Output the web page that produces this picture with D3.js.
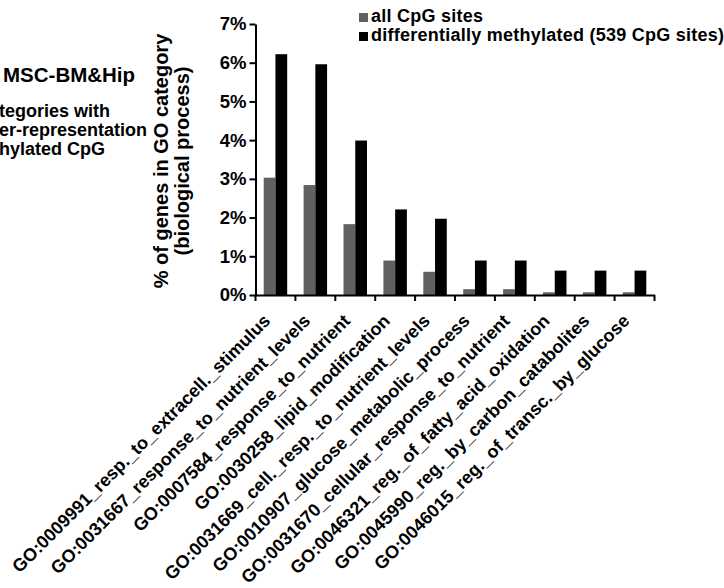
<!DOCTYPE html>
<html>
<head>
<meta charset="utf-8">
<script src="https://cdn.jsdelivr.net/npm/d3@7"></script>
<style>
  html, body { margin: 0; padding: 0; background: #fff; }
  svg { display: block; }
  text { font-family: "Liberation Sans", Arial, sans-serif; font-weight: bold; fill: #000; }
</style>
</head>
<body>
<svg id="chart" width="724" height="588"></svg>
<script>
// GO categories (biological process)
const categories = [
  "GO:0009991_resp._to_extracell._stimulus",
  "GO:0031667_response_to_nutrient_levels",
  "GO:0007584_response_to_nutrient",
  "GO:0030258_lipid_modification",
  "GO:0031669_cell._resp._to_nutrient_levels",
  "GO:0010907_glucose_metabolic_process",
  "GO:0031670_cellular_response_to_nutrient",
  "GO:0046321_reg._of_fatty_acid_oxidation",
  "GO:0045990_reg._by_carbon_catabolites",
  "GO:0046015_reg._of_transc._by_glucose"
];
// % of genes in each category
const allSites = [3.03, 2.84, 1.83, 0.89, 0.60, 0.15, 0.15, 0.07, 0.07, 0.07];
const diffMethylated = [6.22, 5.96, 3.99, 2.21, 1.97, 0.89, 0.89, 0.63, 0.63, 0.63];
const seriesNames = ["all CpG sites", "differentially methylated (539 CpG sites)"];
const seriesColors = ["#616161", "#000000"];
const yTicks = [0, 1, 2, 3, 4, 5, 6, 7];
const sideTitle = "MSC-BM&Hip";
const sideLines = ["tegories with", "er-representation", "hylated CpG"];
const yTitle = ["% of genes in GO category", "(biological process)"];

const svg = d3.select("#chart");

const x0 = d3.scaleBand().domain(categories).range([255.5, 654.5]).padding(0);
const x1 = d3.scaleBand().domain(seriesNames).range([0, x0.bandwidth()])
  .paddingInner(0).paddingOuter(0.7);
const y = d3.scaleLinear().domain([0, 7]).range([295, 24]);

const rows = categories.map((c, i) => ({ cat: c, values: [allSites[i], diffMethylated[i]] }));

// bars
const groups = svg.append("g").selectAll("g").data(rows).join("g")
  .attr("transform", d => `translate(${x0(d.cat)},0)`);
groups.selectAll("rect")
  .data(d => d.values.map((v, k) => ({ name: seriesNames[k], v, k })))
  .join("rect")
  .attr("x", d => x1(d.name))
  .attr("width", x1.bandwidth())
  .attr("y", d => y(d.v))
  .attr("height", d => y(0) - y(d.v))
  .attr("fill", d => seriesColors[d.k]);

// y axis
const yAxis = svg.append("g").attr("transform", `translate(${x0.range()[0]},0)`)
  .call(d3.axisLeft(y).tickValues(yTicks).tickFormat(d => d + "%").tickSize(6).tickSizeOuter(0).tickPadding(3));
yAxis.select(".domain").attr("stroke", "#000").attr("stroke-width", 2);
yAxis.selectAll(".tick line").attr("stroke", "#000").attr("stroke-width", 2);
yAxis.selectAll(".tick text").style("font-size", "18.5px").style("font-family", "Liberation Sans, Arial, sans-serif")
  .style("font-weight", "bold").attr("fill", "#000");

// x axis: baseline with ticks on category boundaries
const xAxis = svg.append("g").attr("transform", `translate(0,${y(0)})`)
  .call(d3.axisBottom(x0).tickSize(0).tickSizeOuter(0).tickFormat(""));
xAxis.select(".domain").attr("stroke", "#000").attr("stroke-width", 2);
const bounds = [x0.range()[0]].concat(categories.map(c => x0(c) + x0.bandwidth()));
xAxis.selectAll("line.bound").data(bounds).join("line").attr("class", "bound")
  .attr("x1", d => d).attr("x2", d => d).attr("y1", 0).attr("y2", 6)
  .attr("stroke", "#000").attr("stroke-width", 2);

// rotated category labels
svg.append("g").selectAll("text").data(categories).join("text")
  .attr("transform", d => `translate(${x0(d) + x0.bandwidth() / 2 - 4},${y(0) + 27}) rotate(-45)`)
  .attr("text-anchor", "end")
  .style("font-size", "18px")
  .text(d => d);

// y axis title
svg.append("g").selectAll("text").data(yTitle).join("text")
  .attr("transform", (d, i) => `translate(${168 + i * 21},161) rotate(-90)`)
  .attr("text-anchor", "middle")
  .style("font-size", "20px")
  .text(d => d);

// legend
const legend = svg.append("g").selectAll("g").data(seriesNames).join("g")
  .attr("transform", (d, i) => `translate(359,${13 + i * 19})`);
legend.append("rect").attr("width", 9).attr("height", 9).attr("fill", (d, i) => seriesColors[i]);
legend.append("text").attr("x", 12).attr("y", 9).style("font-size", "18px")
  .style("letter-spacing", "0.25px").text(d => d);

// side annotation
svg.append("text").attr("x", 3).attr("y", 82).style("font-size", "20.5px").text(sideTitle);
svg.append("g").selectAll("text").data(sideLines).join("text")
  .attr("x", -1).attr("y", (d, i) => 117 + i * 19)
  .style("font-size", "18px").text(d => d);
</script>
</body>
</html>
